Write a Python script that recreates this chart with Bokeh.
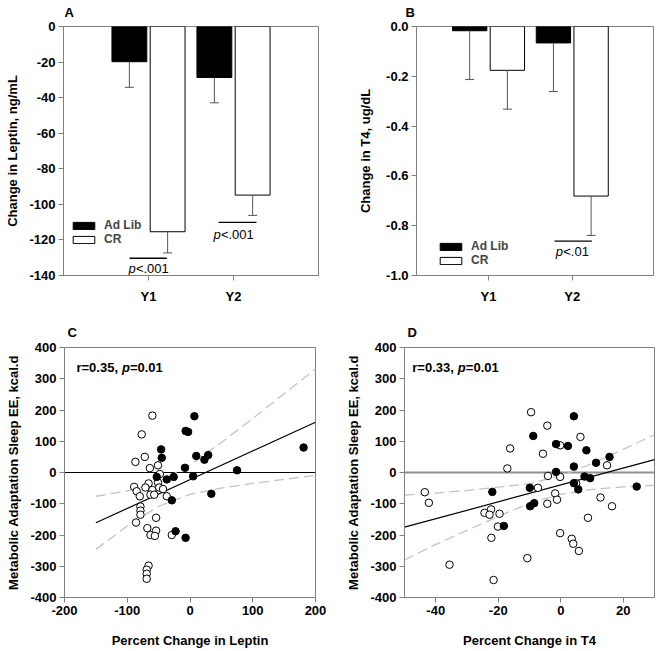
import numpy as np
from bokeh.plotting import figure
from bokeh.layouts import column, row
from bokeh.models import Range1d, FixedTicker, Legend, LegendItem
from bokeh.core.properties import value
from bokeh.embed import file_html
from bokeh.resources import INLINE

FONT = "Liberation Sans"
GRAY = "#808080"

# ---------------- data ----------------
groups = ["Y1", "Y2"]
group_pos = [1, 2]

leptin_adlib = [-19.8, -28.7]
leptin_adlib_err = [14.4, 14.2]
leptin_cr = [-115.4, -94.8]
leptin_cr_err = [11.9, 11.4]
leptin_ticks = [0, -20, -40, -60, -80, -100, -120, -140]

t4_adlib = [-0.017, -0.066]
t4_adlib_err = [0.196, 0.195]
t4_cr = [-0.176, -0.681]
t4_cr_err = [0.156, 0.158]
t4_ticks = [0.0, -0.2, -0.4, -0.6, -0.8, -1.0]
t4_tick_labels = ["0.0", "-0.2", "-0.4", "-0.6", "-0.8", "-1.0"]

leptin_sig_x0 = [0.777, 1.824]
leptin_sig_x1 = [1.215, 2.27]
leptin_sig_y = [-130.3, -110.1]
leptin_sig_text_x = [1.0, 2.0]
leptin_sig_text_y = [-136.3, -116.7]

t4_sig_x0 = [1.787]
t4_sig_x1 = [2.234]
t4_sig_y = [-0.862]
t4_sig_text_x = [2.0]
t4_sig_text_y = [-0.904]

# Panel C: percent change in leptin vs metabolic adaptation
c_cr_x = [-60, -77, -87, -72, -64, -51, -48, -89, -85, -80, -66, -71, -60, -51, -49, -43,
          -63, -57, -37, -79, -79, -79, -86, -54, -68, -54, -63, -56, -29, -66, -69, -69, -69]
c_cr_y = [182, 122, 34, 50, 14, 23, -5, -46, -60, -76, -35, -48, -56, -32, -48, -53,
          -71, -71, -76, -109, -122, -135, -160, -145, -178, -186, -200, -203, -200, -298, -311, -324, -340]
c_al_x = [7, -7, -3, -46, -45, 10, 23, 29, -8, 75, 181, -53, -37, -26, 5, 34, -29, -23, -7]
c_al_y = [180, 133, 130, 74, 47, 53, 41, 56, 15, 7, 80, -14, -22, -14, -12, -68, -89, -188, -209]
c_fit_x = [-150, 200]
c_fit_y = [-161, 161]
c_ci_x = [-150, -100, -50, 0, 50, 100, 150, 200]
c_ci_upper = [-76, -59, -30, 24, 96, 173, 252, 331]
c_ci_lower = [-246, -171, -108, -70, -50, -35, -22, -9]
c_xticks = [-200, -100, 0, 100, 200]

# Panel D: percent change in T4 vs metabolic adaptation
d_cr_x = [-9.5, -4.3, 6.3, -0.2, -5.7, -16.2, -17.1, 14.8, -4.1, -0.2, 4.9, -7.3, -43.5, -42.2,
          -1.8, -1.2, -4.3, 12.7, 16.4, 8.7, -24.4, -22.3, -22.8, -19.6, -20.1, -22.2, -0.2,
          3.5, 4.0, 5.8, -10.7, -35.6, -21.5]
d_cr_y = [193, 150, 114, 87, 60, 77, 13, 23, -11, -14, -35, -49, -63, -97,
          -67, -87, -100, -80, -108, -145, -129, -118, -135, -132, -173, -209, -194,
          -212, -228, -251, -274, -295, -344]
d_al_x = [4.2, -8.8, -1.5, 2.3, 8.2, 15.6, 11.3, 4.2, -1.5, 7.6, 9.4, 4.2, 5.6, 24.3,
          -9.9, -21.9, -8.5, -9.8, -18.2]
d_al_y = [180, 117, 91, 85, 71, 50, 31, 19, 2, -13, -18, -34, -54, -45,
          -49, -62, -98, -108, -171]
d_fit_x = [-50, 30]
d_fit_y = [-175, 41]
d_ci_x = [-50, -40, -30, -20, -10, 0, 10, 20, 30]
d_ci_upper = [-72, -66, -57, -47, -36, -10, 28, 74, 121]
d_ci_lower = [-280, -230, -185, -141, -98, -70, -54, -46, -41]
d_xticks = [-40, -20, 0, 20]

scatter_yticks = [-400, -300, -200, -100, 0, 100, 200, 300, 400]


def style_axes(p, title_offset, title_standoff):
    for ax in (p.xaxis[0], p.yaxis[0]):
        ax.axis_line_color = GRAY
        ax.major_tick_line_color = GRAY
        ax.minor_tick_line_color = None
        ax.major_tick_out = 5
        ax.major_tick_in = 0
        ax.major_label_standoff = 3
        ax.major_label_text_font = FONT
        ax.major_label_text_font_style = "bold"
        ax.major_label_text_font_size = "13px"
        ax.major_label_text_color = "black"
        ax.axis_label_text_font = FONT
        ax.axis_label_text_font_style = "bold"
        ax.axis_label_text_font_size = "13px"
        ax.axis_label_text_color = "black"
        ax.axis_label_standoff = 6
    p.xgrid.grid_line_color = None
    p.ygrid.grid_line_color = None
    p.outline_line_color = GRAY
    p.outline_line_width = 1
    p.title.text_font = FONT
    p.title.text_font_style = "bold"
    p.title.text_font_size = "13px"
    p.title.text_color = "black"
    p.title.align = "left"
    p.title.vertical_align = "top"
    p.title.standoff = title_standoff
    p.title.offset = title_offset


def hyphen_labels(ticks):
    return {t: str(t) for t in ticks}


def bar_panel(letter, title_offset, width, bl, br, xr, yr, yticks, ylabels, ylabel,
              adlib, adlib_err, cr, cr_err, sx0, sx1, sy, stx, sty, stext, fmt,
              legend_loc, ylabel_standoff):
    p = figure(width=width, height=318, output_backend="svg", toolbar_location=None,
               tools="", x_range=Range1d(*xr), y_range=Range1d(*yr),
               min_border_left=bl, min_border_right=br, min_border_top=25,
               min_border_bottom=43, title=letter)
    style_axes(p, title_offset, 9)
    pos = np.array(group_pos, dtype=float)
    xa = pos - 0.225
    xc = pos + 0.225
    adlib = np.array(adlib)
    cr = np.array(cr)
    r_al = p.vbar(x=xa, top=0, bottom=adlib, width=0.41, fill_color="black",
                  line_color="black", line_width=1)
    r_cr = p.vbar(x=xc, top=0, bottom=cr, width=0.41, fill_color="white",
                  line_color="black", line_width=1)
    lo_a = adlib - np.array(adlib_err)
    lo_c = cr - np.array(cr_err)
    p.segment(x0=xa, y0=adlib, x1=xa, y1=lo_a, line_color="#555555", line_width=1)
    p.segment(x0=xc, y0=cr, x1=xc, y1=lo_c, line_color="#555555", line_width=1)
    p.scatter(x=xa, y=lo_a, marker="dash", size=9, line_color="#555555", line_width=1)
    p.scatter(x=xc, y=lo_c, marker="dash", size=9, line_color="#555555", line_width=1)
    # significance bars and labels
    p.segment(x0=sx0, y0=sy, x1=sx1, y1=sy, line_color="black", line_width=1.3)
    p.text(x=stx, y=sty, text=["p"] * len(stx), x_offset=-stext / 2,
           text_font=value(FONT), text_font_style="italic", text_font_size="13px",
           text_align="left", text_baseline="middle", text_color="black")
    p.text(x=stx, y=sty, text=[fmt] * len(stx), x_offset=-stext / 2 + 7.4,
           text_font=value(FONT), text_font_style="normal", text_font_size="13px",
           text_align="left", text_baseline="middle", text_color="black")
    p.xaxis.ticker = FixedTicker(ticks=group_pos)
    p.xaxis.major_label_overrides = {gp: g for gp, g in zip(group_pos, groups)}
    p.xaxis.major_label_standoff = 8
    p.yaxis.ticker = FixedTicker(ticks=yticks)
    p.yaxis.major_label_overrides = {t: lab for t, lab in zip(yticks, ylabels)}
    p.yaxis.axis_label = ylabel
    p.yaxis.axis_label_standoff = ylabel_standoff
    legend = Legend(items=[LegendItem(label="Ad Lib", renderers=[r_al]),
                           LegendItem(label="CR", renderers=[r_cr])],
                    location=legend_loc, glyph_width=27, glyph_height=9,
                    label_height=9, label_standoff=7, spacing=0, padding=0, margin=0,
                    border_line_alpha=0, background_fill_alpha=0,
                    label_text_font=FONT, label_text_font_style="bold",
                    label_text_font_size="12px")
    p.add_layout(legend)
    return p


pA = bar_panel("A", 1, 328, 63, 10, (0, 3.0), (-140, 0), leptin_ticks,
               [str(t) for t in leptin_ticks], "Change in Leptin, ng/mL",
               leptin_adlib, leptin_adlib_err, leptin_cr, leptin_cr_err,
               leptin_sig_x0, leptin_sig_x1, leptin_sig_y, leptin_sig_text_x, leptin_sig_text_y,
               40.0, "<.001", (7, 29), 6)
pB = bar_panel("B", -11, 327, 88, 2, (0.14, 2.97), (-1.0, 0.0), t4_ticks, t4_tick_labels,
               "Change in T4, ug/dL", t4_adlib, t4_adlib_err, t4_cr, t4_cr_err,
               t4_sig_x0, t4_sig_x1, t4_sig_y, t4_sig_text_x, t4_sig_text_y,
               32.8, "<.01", (21, 8), 10)


def scatter_panel(letter, title_offset, width, bl, br, xr, xticks, xlabel,
                  cr_x, cr_y, al_x, al_y, fit_x, fit_y, ci_x, ci_up, ci_lo,
                  ann_x, r_text, zero_color, zero_width):
    p = figure(width=width, height=332, output_backend="svg", toolbar_location=None,
               tools="", x_range=Range1d(*xr), y_range=Range1d(-400, 400),
               min_border_left=bl, min_border_right=br, min_border_top=28,
               min_border_bottom=53, title=letter)
    style_axes(p, title_offset, 12)
    p.xaxis.axis_label_standoff = 15
    p.line(x=list(xr), y=[0, 0], line_color=zero_color, line_width=zero_width)
    p.line(x=ci_x, y=ci_up, line_color="#c4c4c4", line_width=1.3, line_dash="10 5")
    p.line(x=ci_x, y=ci_lo, line_color="#c4c4c4", line_width=1.3, line_dash="10 5")
    p.line(x=fit_x, y=fit_y, line_color="black", line_width=1.2)
    p.scatter(x=cr_x, y=cr_y, size=7.5, fill_color="white", line_color="black", line_width=1)
    p.scatter(x=al_x, y=al_y, size=7.5, fill_color="black", line_color="black", line_width=1)
    p.text(x=[ann_x], y=[336], text=[r_text], text_font=value(FONT), text_font_style="bold",
           text_font_size="13px", text_align="left", text_baseline="middle", text_color="black")
    p.text(x=[ann_x], y=[336], text=["p"], x_offset=45.5, text_font=value(FONT),
           text_font_style="bold italic", text_font_size="13px", text_align="left",
           text_baseline="middle", text_color="black")
    p.text(x=[ann_x], y=[336], text=["=0.01"], x_offset=53.5, text_font=value(FONT),
           text_font_style="bold", text_font_size="13px", text_align="left",
           text_baseline="middle", text_color="black")
    p.xaxis.ticker = FixedTicker(ticks=xticks)
    p.xaxis.major_label_overrides = hyphen_labels(xticks)
    p.yaxis.ticker = FixedTicker(ticks=scatter_yticks)
    p.yaxis.major_label_overrides = hyphen_labels(scatter_yticks)
    p.xaxis.axis_label = xlabel
    p.yaxis.axis_label = "Metabolic Adaptation Sleep EE, kcal.d"
    return p


pC = scatter_panel("C", 3, 328, 64, 13, (-200, 200), c_xticks,
                   "Percent Change in Leptin", c_cr_x, c_cr_y, c_al_x, c_al_y,
                   c_fit_x, c_fit_y, c_ci_x, c_ci_upper, c_ci_lower,
                   -181, "r=0.35, ", "black", 1)
pD = scatter_panel("D", 3, 327, 76, 1, (-50, 30), d_xticks,
                   "Percent Change in T4", d_cr_x, d_cr_y, d_al_x, d_al_y,
                   d_fit_x, d_fit_y, d_ci_x, d_ci_upper, d_ci_lower,
                   -47.5, "r=0.33, ", "#909090", 1.8)

layout = column(row(pA, pB, spacing=0), row(pC, pD, spacing=0), spacing=0)

open("out.html", "w").write(file_html(layout, INLINE))
